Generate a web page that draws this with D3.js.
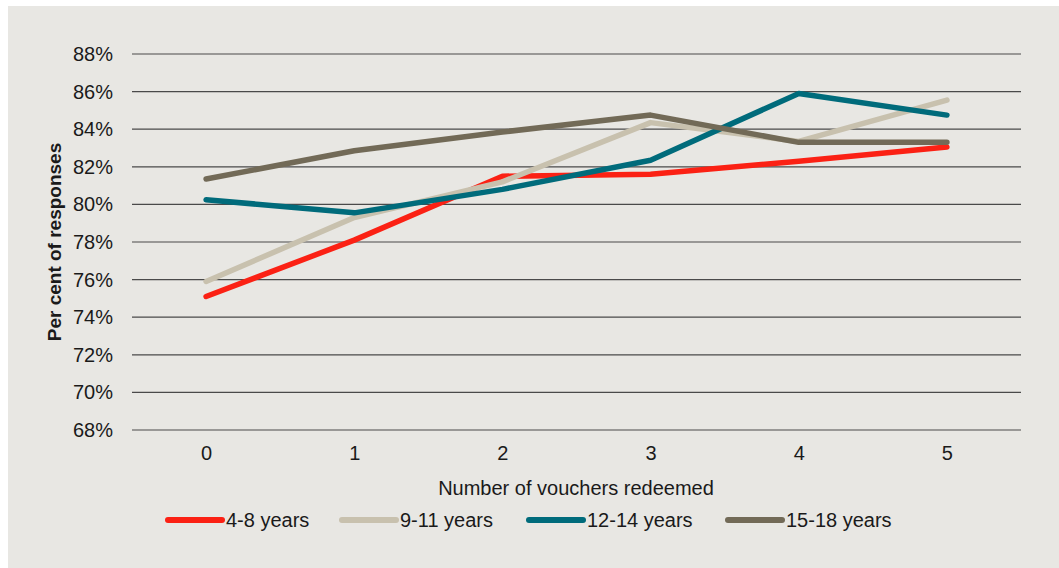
<!DOCTYPE html>
<html>
<head>
<meta charset="utf-8">
<script src="https://cdn.jsdelivr.net/npm/d3@7"></script>
<style>
  html, body { margin: 0; padding: 0; background: #ffffff; }
  svg { display: block; }
  text { font-family: "Liberation Sans", Arial, sans-serif; fill: #1a1a1a; }
</style>
</head>
<body>
<svg id="chart" width="1059" height="568"></svg>
<script>
// Share of responses by number of vouchers redeemed, per age group
const categories = [0, 1, 2, 3, 4, 5];
const seriesNames = ["4-8 years", "9-11 years", "12-14 years", "15-18 years"];
const values48   = [75.1, 78.1, 81.5, 81.6, 82.3, 83.05];
const values911  = [75.9, 79.3, 81.2, 84.35, 83.35, 85.55];
const values1214 = [80.25, 79.55, 80.8, 82.35, 85.9, 84.75];
const values1518 = [81.35, 82.85, 83.85, 84.75, 83.3, 83.3];
const yTicks = [68, 70, 72, 74, 76, 78, 80, 82, 84, 86, 88];
const colors = ["#fb2114", "#c8c1ae", "#006b7b", "#726a57"];

const series = [values48, values911, values1214, values1518].map((vals, i) => ({
  name: seriesNames[i],
  color: colors[i],
  points: categories.map((c, j) => ({ x: c, y: vals[j] }))
}));

const svg = d3.select("#chart");
const W = 1059, H = 568;
const labelSize = "20px";

// panel background
svg.append("rect")
  .attr("x", 8).attr("y", 6)
  .attr("width", W - 8).attr("height", H - 6)
  .attr("fill", "#e8e7e3");

const plot = { left: 132, right: 1021, top: 54, bottom: 430 };

const x = d3.scalePoint()
  .domain(categories)
  .range([plot.left, plot.right])
  .padding(0.5);

const y = d3.scaleLinear()
  .domain([68, 88])
  .range([plot.bottom, plot.top]);

// horizontal gridlines
svg.append("g")
  .selectAll("line")
  .data(yTicks)
  .join("line")
  .attr("x1", plot.left).attr("x2", plot.right)
  .attr("y1", d => y(d)).attr("y2", d => y(d))
  .attr("stroke", "#4a4a4a")
  .attr("stroke-width", 1.2);

// y axis labels
const yAxis = svg.append("g")
  .attr("transform", `translate(${plot.left - 19},0)`)
  .call(d3.axisLeft(y).tickValues(yTicks).tickSize(0).tickPadding(0).tickFormat(d => d + "%"));
yAxis.select(".domain").remove();
yAxis.selectAll("text")
  .style("font-size", labelSize)
  .style("font-family", "'Liberation Sans', Arial, sans-serif")
  .attr("fill", "#1a1a1a");

// x axis labels
const xAxis = svg.append("g")
  .attr("transform", `translate(0,${plot.bottom + 16})`)
  .call(d3.axisBottom(x).tickSize(0).tickPadding(0));
xAxis.select(".domain").remove();
xAxis.selectAll("text")
  .style("font-size", labelSize)
  .style("font-family", "'Liberation Sans', Arial, sans-serif")
  .attr("fill", "#1a1a1a");

// axis titles
svg.append("text")
  .attr("x", 576)
  .attr("y", 495)
  .attr("text-anchor", "middle")
  .style("font-size", labelSize)
  .text("Number of vouchers redeemed");

svg.append("text")
  .attr("transform", `translate(61,${(plot.top + plot.bottom) / 2}) rotate(-90)`)
  .attr("text-anchor", "middle")
  .style("font-size", "19px")
  .style("font-weight", "bold")
  .text("Per cent of responses");

// series lines
const line = d3.line().x(d => x(d.x)).y(d => y(d.y));
svg.append("g")
  .selectAll("path")
  .data(series)
  .join("path")
  .attr("d", d => line(d.points))
  .attr("fill", "none")
  .attr("stroke", d => d.color)
  .attr("stroke-width", 5.5)
  .attr("stroke-linecap", "round")
  .attr("stroke-linejoin", "round");

// legend
const legendX = [168, 342, 529, 728];
const legend = svg.append("g")
  .selectAll("g")
  .data(series)
  .join("g")
  .attr("transform", (d, i) => `translate(${legendX[i]},520)`);
legend.append("line")
  .attr("x1", 0).attr("x2", 54)
  .attr("stroke", d => d.color)
  .attr("stroke-width", 6)
  .attr("stroke-linecap", "round");
legend.append("text")
  .attr("x", 58)
  .attr("dy", "0.35em")
  .style("font-size", labelSize)
  .text(d => d.name);
</script>
</body>
</html>
